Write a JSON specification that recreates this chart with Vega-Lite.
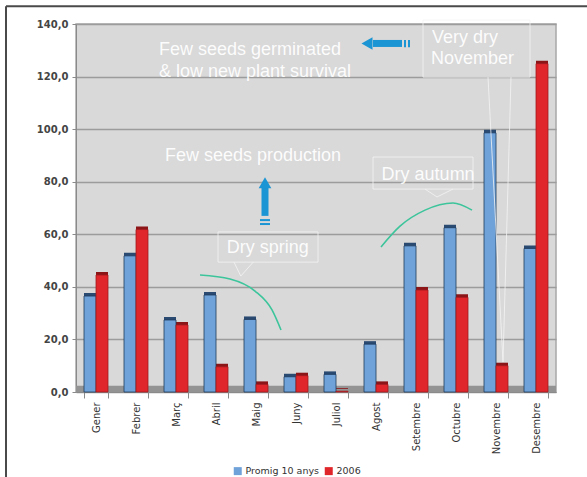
{
  "$schema": "https://vega.github.io/schema/vega-lite/v6.json",
  "width": 480,
  "height": 368,
  "autosize": {"type": "none"},
  "padding": {"left": 76, "top": 24, "right": 31, "bottom": 85},
  "background": "white",
  "config": {
    "view": {"fill": "#d9d9d9", "stroke": "#a8a8a8", "strokeWidth": 1.5},
    "font": "DejaVu Sans",
    "axisY": {
      "labelExpr": "replace(format(datum.value, '.1f'), '.', ',')",
      "labelFontSize": 10,
      "labelFontWeight": "bold",
      "labelColor": "#444444",
      "tickSize": 4,
      "labelPadding": 4,
      "tickColor": "#8a8a8a",
      "domainColor": "#8a8a8a",
      "gridColor": "#9c9c9c",
      "gridWidth": 1.5
    }
  },
  "datasets": {
    "rain": [
      {"month": "Gener", "series": "Promig 10 anys", "value": 36.5},
      {"month": "Gener", "series": "2006", "value": 44.5},
      {"month": "Febrer", "series": "Promig 10 anys", "value": 51.8},
      {"month": "Febrer", "series": "2006", "value": 61.8},
      {"month": "Març", "series": "Promig 10 anys", "value": 27.4},
      {"month": "Març", "series": "2006", "value": 25.5},
      {"month": "Abril", "series": "Promig 10 anys", "value": 36.9},
      {"month": "Abril", "series": "2006", "value": 9.6},
      {"month": "Maig", "series": "Promig 10 anys", "value": 27.6},
      {"month": "Maig", "series": "2006", "value": 2.9},
      {"month": "Juny", "series": "Promig 10 anys", "value": 5.8},
      {"month": "Juny", "series": "2006", "value": 6.2},
      {"month": "Juliol", "series": "Promig 10 anys", "value": 6.7},
      {"month": "Juliol", "series": "2006", "value": 0.3},
      {"month": "Agost", "series": "Promig 10 anys", "value": 18.2},
      {"month": "Agost", "series": "2006", "value": 2.9},
      {"month": "Setembre", "series": "Promig 10 anys", "value": 55.6},
      {"month": "Setembre", "series": "2006", "value": 38.8},
      {"month": "Octubre", "series": "Promig 10 anys", "value": 62.5},
      {"month": "Octubre", "series": "2006", "value": 36.0},
      {"month": "Novembre", "series": "Promig 10 anys", "value": 98.6},
      {"month": "Novembre", "series": "2006", "value": 10.0},
      {"month": "Desembre", "series": "Promig 10 anys", "value": 54.6},
      {"month": "Desembre", "series": "2006", "value": 124.9}
    ],
    "floor": [{"x": 0, "x2": 12, "y": 0, "y2": 2.4}],
    "frame": [
      {"x": -1.75, "x2": 12.8, "y": 146.8, "y2": 146.8},
      {"x": -1.75, "x2": -1.75, "y": 146.8, "y2": -33}
    ],
    "texts": [
      {"text": "Few seeds germinated", "x": 2.075, "y": 128.2},
      {"text": "& low new plant survival", "x": 2.075, "y": 119.8},
      {"text": "Few seeds production", "x": 2.225, "y": 87.9},
      {"text": "Very dry", "x": 8.9, "y": 132.7},
      {"text": "November", "x": 8.875, "y": 124.6},
      {"text": "Dry autumn", "x": 7.64, "y": 80.6},
      {"text": "Dry spring", "x": 3.77, "y": 52.7}
    ],
    "boxes": [
      {"box": "november", "x": 8.675, "x2": 11.35, "y": 141.5, "y2": 119.8},
      {"box": "autumn", "x": 7.425, "x2": 9.925, "y": 89.4, "y2": 77.2},
      {"box": "spring", "x": 3.55, "x2": 6.05, "y": 60.9, "y2": 49.4}
    ],
    "pointers": [
      {"id": "spring", "o": 1, "x": 3.95, "y": 49.4},
      {"id": "spring", "o": 2, "x": 4.12, "y": 44.1},
      {"id": "spring", "o": 3, "x": 4.43, "y": 49.4},
      {"id": "autumn", "o": 1, "x": 8.725, "y": 77.2},
      {"id": "autumn", "o": 2, "x": 9.025, "y": 74.2},
      {"id": "autumn", "o": 3, "x": 9.425, "y": 77.2},
      {"id": "november", "o": 1, "x": 10.3, "y": 119.8},
      {"id": "november", "o": 2, "x": 10.675, "y": 11.4},
      {"id": "november", "o": 3, "x": 10.875, "y": 119.8}
    ],
    "arcs": [
      {"id": "spring", "o": 1, "x": 3.1, "y": 44.5},
      {"id": "spring", "o": 2, "x": 3.85, "y": 43.0},
      {"id": "spring", "o": 3, "x": 4.475, "y": 38.4},
      {"id": "spring", "o": 4, "x": 4.9, "y": 31.2},
      {"id": "spring", "o": 5, "x": 5.125, "y": 23.6},
      {"id": "autumn", "o": 1, "x": 7.625, "y": 55.2},
      {"id": "autumn", "o": 2, "x": 8.1, "y": 63.1},
      {"id": "autumn", "o": 3, "x": 8.725, "y": 69.2},
      {"id": "autumn", "o": 4, "x": 9.425, "y": 71.9},
      {"id": "autumn", "o": 5, "x": 9.9, "y": 69.2}
    ],
    "shafts": [
      {"x": 7.425, "x2": 8.15, "y": 132.6, "y2": 132.6, "w": "thick"},
      {"x": 4.725, "x2": 4.725, "y": 77.6, "y2": 67.0, "w": "thick"},
      {"x": 8.225, "x2": 8.225, "y": 133.9, "y2": 131.2, "w": "thin"},
      {"x": 8.325, "x2": 8.325, "y": 133.9, "y2": 131.2, "w": "thin"},
      {"x": 4.6, "x2": 4.85, "y": 65.4, "y2": 65.4, "w": "thin"},
      {"x": 4.6, "x2": 4.85, "y": 63.9, "y2": 63.9, "w": "thin"}
    ],
    "heads": [
      {"x": 7.275, "y": 132.6, "shape": "triangle-left"},
      {"x": 4.725, "y": 79.6, "shape": "triangle-up"}
    ]
  },
  "layer": [
    {
      "data": {"name": "floor"},
      "mark": {"type": "rect", "color": "#939393"},
      "encoding": {
        "x": {"field": "x", "type": "quantitative", "scale": {"domain": [0, 12], "nice": false, "zero": false}, "axis": null},
        "x2": {"field": "x2"},
        "y": {"field": "y", "type": "quantitative", "scale": {"domain": [0, 140], "nice": false}, "axis": {"title": null, "values": [0, 20, 40, 60, 80, 100, 120, 140]}},
        "y2": {"field": "y2"}
      }
    },
    {
      "data": {"name": "rain"},
      "encoding": {
        "x": {
          "field": "month",
          "type": "nominal",
          "sort": ["Gener", "Febrer", "Març", "Abril", "Maig", "Juny", "Juliol", "Agost", "Setembre", "Octubre", "Novembre", "Desembre"],
          "scale": {"paddingInner": 0.4, "paddingOuter": 0.2},
          "axis": {
            "title": null,
            "labelAngle": -90,
            "labelAlign": "right",
            "labelBaseline": "middle",
            "labelFontSize": 10,
            "labelColor": "#333333",
            "labelPadding": 4,
            "tickBand": "extent",
            "tickSize": 6,
            "tickColor": "#8a8a8a",
            "domainColor": "#8a8a8a",
            "grid": false
          }
        },
        "xOffset": {"field": "series", "type": "nominal", "sort": ["Promig 10 anys", "2006"], "scale": {"paddingInner": 0}},
        "y": {"field": "value", "type": "quantitative", "scale": {"domain": [0, 140], "nice": false}, "axis": {"title": null, "values": [0, 20, 40, 60, 80, 100, 120, 140]}}
      },
      "layer": [
        {
          "mark": {"type": "bar", "xOffset": 4, "yOffset": -3, "y2Offset": -3},
          "encoding": {
            "color": {"condition": {"test": "datum.series === '2006'", "value": "#8c1518"}, "value": "#2a4a72"}
          }
        },
        {
          "mark": {"type": "bar", "strokeWidth": 0.8},
          "encoding": {
            "color": {
              "field": "series",
              "type": "nominal",
              "scale": {"domain": ["Promig 10 anys", "2006"], "range": ["#6fa2d9", "#e0262b"]},
              "legend": {
                "orient": "none",
                "legendX": 157,
                "legendY": 442,
                "direction": "horizontal",
                "title": null,
                "symbolType": "square",
                "symbolSize": 64,
                "symbolStrokeWidth": 0,
                "labelFontSize": 9.5,
                "labelColor": "#333333",
                "labelOffset": 3,
                "columnPadding": 4,
                "padding": 0
              }
            },
            "stroke": {"condition": {"test": "datum.series === '2006'", "value": "#a01c1f"}, "value": "#1f3a5c"}
          }
        }
      ]
    },
    {
      "encoding": {
        "x": {"field": "x", "type": "quantitative", "scale": {"domain": [0, 12], "nice": false, "zero": false}, "axis": null},
        "y": {"field": "y", "type": "quantitative", "axis": {"title": null, "values": [0, 20, 40, 60, 80, 100, 120, 140]}}
      },
      "layer": [
        {
          "data": {"name": "frame"},
          "mark": {"type": "rule", "color": "#4a4a4a", "strokeWidth": 2},
          "encoding": {"x2": {"field": "x2"}, "y2": {"field": "y2"}}
        },
        {
          "data": {"name": "boxes"},
          "mark": {"type": "rect", "fill": null, "stroke": "#f4f4f4", "strokeWidth": 1, "strokeOpacity": 0.8},
          "encoding": {"x2": {"field": "x2"}, "y2": {"field": "y2"}}
        },
        {
          "data": {"name": "pointers"},
          "mark": {"type": "line", "color": "#f4f4f4", "strokeWidth": 1, "strokeOpacity": 0.8},
          "encoding": {"detail": {"field": "id"}, "order": {"field": "o", "type": "quantitative"}}
        },
        {
          "data": {"name": "arcs"},
          "mark": {"type": "line", "color": "#3cc49a", "strokeWidth": 1.6, "interpolate": "monotone"},
          "encoding": {"detail": {"field": "id"}, "order": {"field": "o", "type": "quantitative"}}
        },
        {
          "data": {"name": "shafts"},
          "mark": {"type": "rule", "color": "#1b95d3"},
          "encoding": {
            "x2": {"field": "x2"},
            "y2": {"field": "y2"},
            "strokeWidth": {"field": "w", "type": "nominal", "scale": {"domain": ["thick", "thin"], "range": [7, 2]}, "legend": null}
          }
        },
        {
          "data": {"name": "heads"},
          "mark": {"type": "point", "filled": true, "color": "#1b95d3", "size": 160, "opacity": 1},
          "encoding": {"shape": {"field": "shape", "type": "nominal", "scale": {"domain": ["triangle-left", "triangle-up"], "range": ["triangle-left", "triangle-up"]}, "legend": null}}
        },
        {
          "data": {"name": "texts"},
          "mark": {"type": "text", "align": "left", "baseline": "alphabetic", "font": "Liberation Sans", "fontSize": 18, "color": "#ffffff", "opacity": 0.92},
          "encoding": {"text": {"field": "text"}}
        }
      ]
    }
  ],
  "resolve": {"scale": {"x": "independent"}, "axis": {"x": "independent"}}
}
